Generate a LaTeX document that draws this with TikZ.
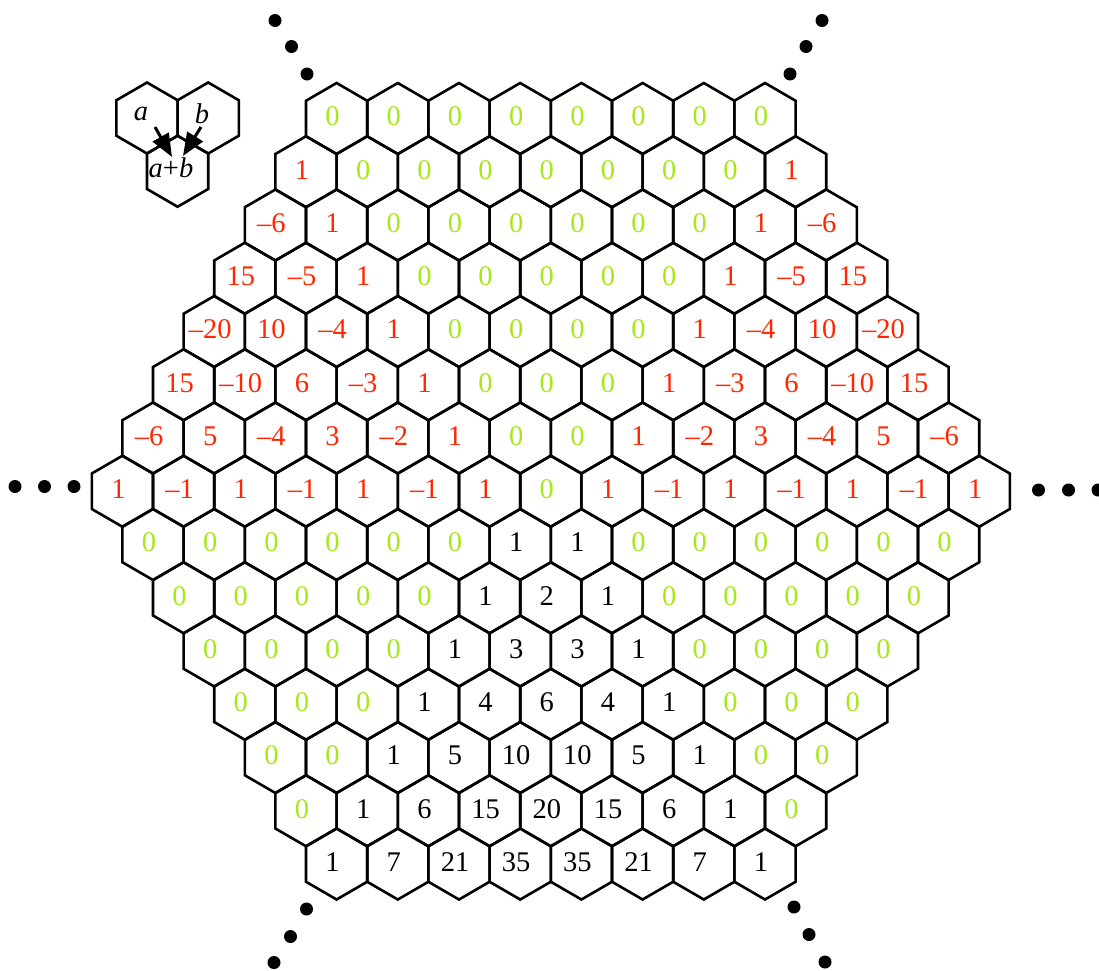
\documentclass[tikz,border=0pt]{standalone}
\usepackage{fontspec}
\setmainfont{Liberation Serif}
\usetikzlibrary{arrows.meta,calc}
\definecolor{hred}{RGB}{255,38,0}
\definecolor{hgreen}{RGB}{166,232,24}
\newcommand\hexnum[1]{\ifnum#1<0 –\number\numexpr 0-#1\relax\else#1\fi}
\newcommand\hexlab[2]{\ifnum#1=0 \textcolor{hgreen}{0}\else\ifnum#2<8 \textcolor{hred}{\hexnum{#1}}\else\hexnum{#1}\fi\fi}
\tikzset{
  hexline/.style={line width=2.6pt,draw=black},
  lab/.style={inner sep=0pt,font=\fontsize{28.5}{30}\selectfont},
  legarrow/.style={line width=3pt,-{Triangle[length=23pt,width=18pt]}},
  dotfill/.style={fill=black},
}
\newcommand\hexshape[1]{\draw[hexline] (#1) ++(0,-35.5) -- ++(30.6,17.75) -- ++(0,35.5) -- ++(-30.6,17.75) -- ++(-30.6,-17.75) -- ++(0,-35.5) -- cycle;}
\newcommand\hexrow[2]{%
  \pgfmathsetmacro\nn{15-abs(#1-7)}%
  \foreach \v [count=\k from 0] in {#2} {%
    \pgfmathsetmacro\xx{550.8+(\k-(\nn-1)/2)*61.2}%
    \pgfmathsetmacro\yy{118.5+#1*53.25}%
    \coordinate (c-#1-\k) at (\xx,\yy);
    \hexshape{c-#1-\k}
    \node[lab] (t-#1-\k) at ([shift={(-4,-2)}]c-#1-\k) {\hexlab{\v}{#1}};
  }%
}
\begin{document}
\begin{tikzpicture}[x=1pt,y=-1pt]
\useasboundingbox (0,0) rectangle (1099,970);
\hexrow{0}{0,0,0,0,0,0,0,0}
\hexrow{1}{1,0,0,0,0,0,0,0,1}
\hexrow{2}{-6,1,0,0,0,0,0,0,1,-6}
\hexrow{3}{15,-5,1,0,0,0,0,0,1,-5,15}
\hexrow{4}{-20,10,-4,1,0,0,0,0,1,-4,10,-20}
\hexrow{5}{15,-10,6,-3,1,0,0,0,1,-3,6,-10,15}
\hexrow{6}{-6,5,-4,3,-2,1,0,0,1,-2,3,-4,5,-6}
\hexrow{7}{1,-1,1,-1,1,-1,1,0,1,-1,1,-1,1,-1,1}
\hexrow{8}{0,0,0,0,0,0,1,1,0,0,0,0,0,0}
\hexrow{9}{0,0,0,0,0,1,2,1,0,0,0,0,0}
\hexrow{10}{0,0,0,0,1,3,3,1,0,0,0,0}
\hexrow{11}{0,0,0,1,4,6,4,1,0,0,0}
\hexrow{12}{0,0,1,5,10,10,5,1,0,0}
\hexrow{13}{0,1,6,15,20,15,6,1,0}
\hexrow{14}{1,7,21,35,35,21,7,1}
% legend
\coordinate (la) at (147,118);
\coordinate (lb) at (208.2,118);
\coordinate (lc) at (177.6,171.25);
\hexshape{la}
\hexshape{lb}
\hexshape{lc}
\node[lab] (ta) at (141,114) {\textit{a}};
\node[lab] (tb) at (202,114) {\textit{b}};
\node[lab] (tc) at (171,168) {\textit{a}+\textit{b}};
\coordinate (as) at (155,127);
\coordinate (at) at (172,157);
\coordinate (bs) at (201,127);
\coordinate (bt) at (183,156);
\draw[legarrow] (as) -- (at);
\draw[legarrow] (bs) -- (bt);
% dots
\foreach \p in {(275,20.5),(291.5,46.5),(307,74),
                (822,20.5),(806,46.5),(790,74),
                (15,486.5),(44.5,486.5),(74,486.5),
                (1038.5,490),(1068.5,490),(1098,490),
                (306.5,909),(290.5,936.5),(274,962.5),
                (794,907),(809,934.5),(825,962)}
  \fill[dotfill] \p circle (6.5);
\end{tikzpicture}
\end{document}
